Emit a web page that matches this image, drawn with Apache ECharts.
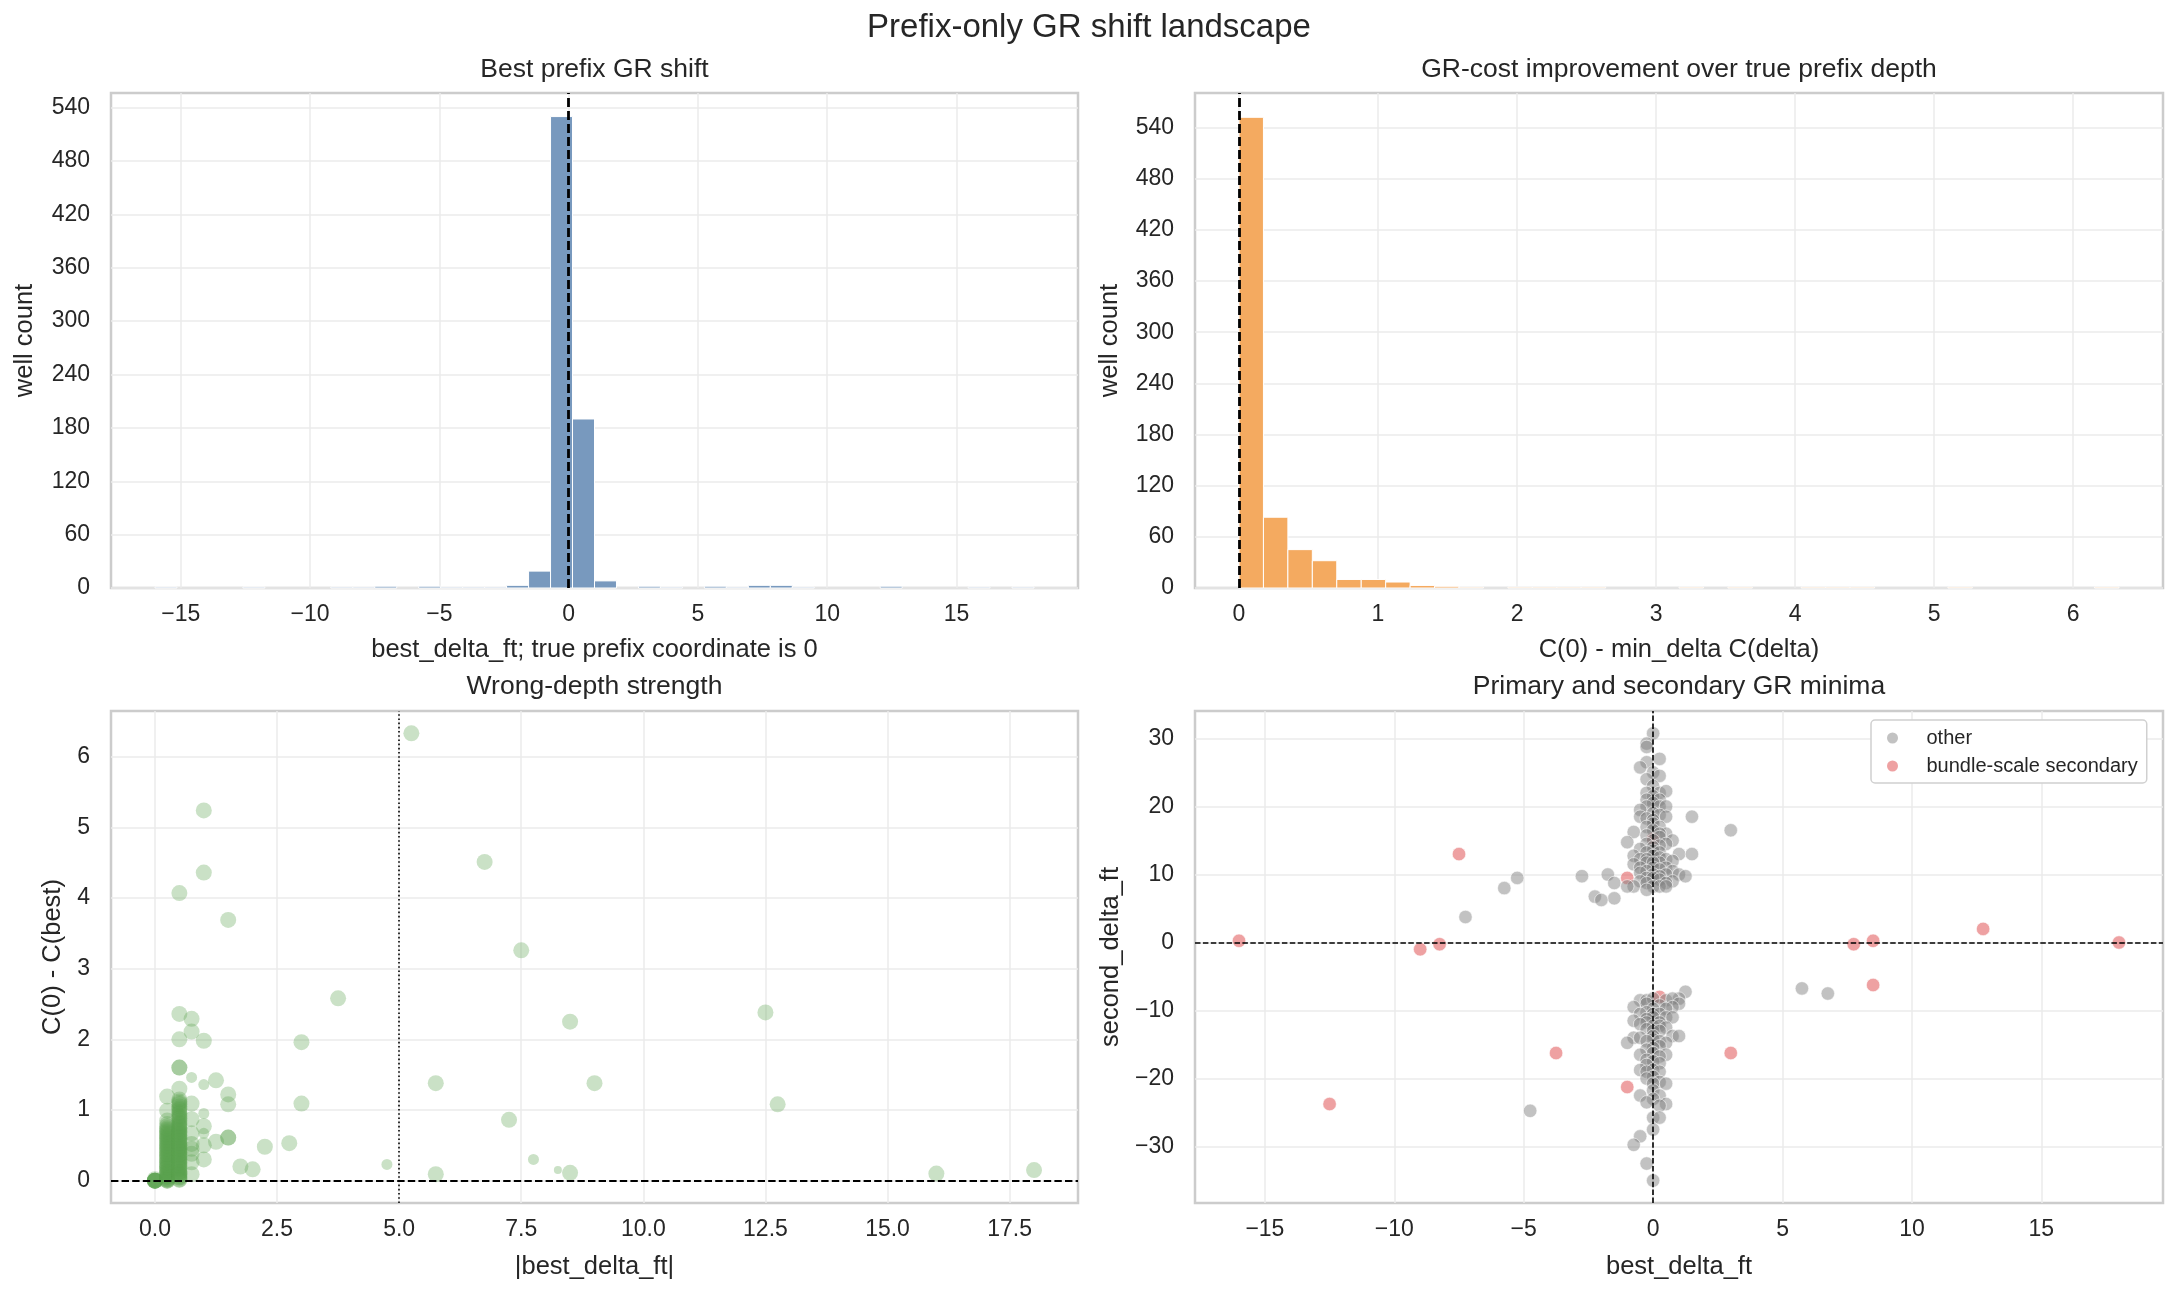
<!DOCTYPE html>
<html>
<head>
<meta charset="utf-8">
<title>Prefix-only GR shift landscape</title>
<script src="https://cdn.jsdelivr.net/npm/echarts@6.0.0/dist/echarts.min.js"></script>
<style>
  html, body { margin: 0; padding: 0; background: #fff; }
  #chart { width: 2178px; height: 1298px; }
</style>
</head>
<body>
<div id="chart"></div>
<script>
// histogram of best prefix shift (ft), 40 equal bins
const shiftBinStart = -16
const shiftBinWidth = 0.85
const shiftCounts = [
  1, 0, 0, 0, 1, 0, 0, 0, 1, 1,
  2, 0, 2, 1, 1, 1, 3, 19, 530, 190,
  8, 0, 2, 1, 0, 2, 1, 3, 3, 1,
  0, 0, 0, 2, 0, 0, 0, 1, 0, 1
]

// histogram of C(0) - min C(delta), 36 equal bins
const gainBinStart = 0
const gainBinWidth = 6.33 / 36
const gainCounts = [
  552, 83, 45, 32, 10, 10, 7, 3, 2, 1,
  0, 1, 1, 1, 1, 0, 0, 0, 1, 0,
  1, 0, 0, 1, 1, 1, 0, 0, 0, 1,
  0, 0, 0, 0, 0, 1
]

// tick labels
const countTicks = [0, 60, 120, 180, 240, 300, 360, 420, 480, 540]
const shiftTicks = [-15, -10, -5, 0, 5, 10, 15]
const gainTicks = [0, 1, 2, 3, 4, 5, 6]
const absShiftTicks = [0, 2.5, 5, 7.5, 10, 12.5, 15, 17.5]
const secondTicks = [-30, -20, -10, 0, 10, 20, 30]

// [|best_delta_ft|, C(0) - C(best), marker size class]
const strengthPoints = [
  [0, 0, 3], [0, 0, 3], [0, 0, 3], [0, 0, 3], [0, 0, 3], [0, 0, 3], [0, 0.02, 3],
  [0.25, 0, 3], [0.25, 0, 3], [0.25, 0.01, 3], [0.25, 0.03, 3], [0.25, 0.05, 3], [0.25, 0.08, 3],
  [0.25, 0.11, 3], [0.25, 0.14, 3], [0.25, 0.17, 3], [0.25, 0.2, 3], [0.25, 0.24, 3], [0.25, 0.28, 3],
  [0.25, 0.32, 3], [0.25, 0.36, 3], [0.25, 0.4, 3], [0.25, 0.44, 3], [0.25, 0.48, 3], [0.25, 0.52, 3],
  [0.25, 0.56, 3], [0.25, 0.6, 3], [0.25, 0.64, 3], [0.25, 0.68, 3], [0.25, 0.72, 3], [0.25, 0.77, 3],
  [0.25, 0.02, 3], [0.25, 0.06, 3], [0.25, 0.1, 3], [0.25, 0.13, 3], [0.25, 0.19, 3], [0.25, 0.22, 3],
  [0.25, 0.26, 3], [0.25, 0.3, 3], [0.25, 0.34, 3], [0.25, 0.38, 3], [0.25, 0.42, 3], [0.25, 0.46, 3],
  [0.25, 0.5, 3], [0.25, 0.54, 3], [0.25, 0.58, 3], [0.25, 0.62, 3], [0.25, 0.66, 3], [0.25, 0.7, 3],
  [0.25, 0.74, 3], [0.25, 0.8, 3], [0.25, 0.85, 3],
  [0.25, 0.99, 3], [0.25, 1.19, 3],
  [0.5, 0.02, 3], [0.5, 0.04, 3], [0.5, 0.07, 3], [0.5, 0.1, 3], [0.5, 0.13, 3], [0.5, 0.16, 3],
  [0.5, 0.2, 3], [0.5, 0.24, 3], [0.5, 0.28, 3], [0.5, 0.32, 3], [0.5, 0.36, 3], [0.5, 0.4, 3],
  [0.5, 0.44, 3], [0.5, 0.48, 3], [0.5, 0.52, 3], [0.5, 0.56, 3], [0.5, 0.6, 3], [0.5, 0.64, 3],
  [0.5, 0.68, 3], [0.5, 0.72, 3], [0.5, 0.76, 3], [0.5, 0.8, 3], [0.5, 0.85, 3], [0.5, 0.9, 3],
  [0.5, 0.95, 3], [0.5, 1.0, 3], [0.5, 1.05, 3], [0.5, 1.1, 3], [0.5, 1.15, 3],
  [0.5, 0.01, 3], [0.5, 0.05, 3], [0.5, 0.09, 3], [0.5, 0.12, 3], [0.5, 0.18, 3], [0.5, 0.22, 3],
  [0.5, 0.26, 3], [0.5, 0.3, 3], [0.5, 0.34, 3], [0.5, 0.38, 3], [0.5, 0.42, 3], [0.5, 0.46, 3],
  [0.5, 0.5, 3], [0.5, 0.54, 3], [0.5, 0.58, 3], [0.5, 0.62, 3], [0.5, 0.66, 3], [0.5, 0.7, 3],
  [0.5, 0.74, 3], [0.5, 0.78, 3], [0.5, 0.82, 3], [0.5, 0.88, 3], [0.5, 0.92, 3], [0.5, 0.97, 3],
  [0.5, 1.02, 3], [0.5, 1.08, 3], [0.5, 1.12, 3], [0.5, 1.3, 3],
  [0.5, 1.6, 3], [0.5, 1.6, 3], [0.5, 2.0, 3], [0.5, 2.36, 3], [0.5, 4.07, 3],
  [0.75, 0.09, 3], [0.75, 0.26, 3], [0.75, 0.38, 3], [0.75, 0.45, 3], [0.75, 0.52, 3], [0.75, 0.67, 3],
  [0.75, 0.87, 3], [0.75, 1.09, 3], [0.75, 1.46, 2], [0.75, 2.11, 3], [0.75, 2.29, 3],
  [1, 0.3, 3], [1, 0.5, 3], [1, 0.67, 2], [1, 0.77, 3], [1, 0.95, 2], [1, 1.36, 2], [1, 1.98, 3],
  [1, 4.36, 3], [1, 5.24, 3],
  [1.25, 0.55, 3], [1.25, 1.42, 3],
  [1.5, 0.61, 3], [1.5, 0.61, 3], [1.5, 1.08, 3], [1.5, 1.22, 3], [1.5, 3.69, 3],
  [1.75, 0.2, 3], [2, 0.16, 3], [2.25, 0.48, 3], [2.75, 0.53, 3], [3, 1.09, 3], [3, 1.96, 3],
  [3.75, 2.58, 3], [4.75, 0.23, 2], [5.25, 6.33, 3], [5.75, 0.09, 3], [5.75, 1.38, 3],
  [6.75, 4.51, 3], [7.25, 0.86, 3], [7.5, 3.26, 3], [7.75, 0.3, 2], [8.25, 0.15, 1],
  [8.5, 0.11, 3], [8.5, 2.25, 3], [9, 1.38, 3], [12.5, 2.38, 3], [12.75, 1.08, 3],
  [16, 0.1, 3], [18, 0.15, 3]
]

// [best_delta_ft, second_delta_ft]
const otherPoints = [
  [0, 30.75], [-0.25, 29.25], [-0.25, 28.75], [0.25, 27], [-0.25, 26.5], [-0.5, 25.75], [0, 25],
  [0.25, 24.5], [-0.25, 24], [0, 23], [-0.25, 22], [0.25, 22], [0.5, 22.25], [0, 21.5], [0.25, 21],
  [-0.25, 21], [0, 20.5], [-0.25, 20], [0.25, 20], [0.5, 20], [-0.5, 19.5], [0, 19], [0.25, 18.75],
  [-0.5, 18.5], [-0.25, 18.25], [0.5, 18.5], [1.5, 18.5], [0, 18], [0, 17.5], [-0.25, 17], [0.25, 17],
  [3, 16.5], [0, 16.5], [-0.75, 16.25], [0.5, 16], [0.25, 16], [-0.25, 15.75], [0.25, 15.5], [0, 15],
  [0.75, 15], [-1, 14.75], [-0.25, 14.5], [0.5, 14.5], [0.25, 14.25], [0, 14], [-0.5, 13.75],
  [0, 13.5], [-0.25, 13.25], [0.25, 13.25], [1, 13], [1.5, 13], [0, 12.75], [-0.75, 12.75],
  [0.25, 12.5], [-0.5, 12.25], [-0.25, 12.25], [0.5, 12.25], [0.75, 12], [-0.25, 11.75],
  [0.25, 11.75], [0, 11.75], [-0.75, 11.5], [-0.5, 11], [0, 11], [0.5, 11], [0.25, 10.75],
  [-0.25, 10.5], [0.75, 10.5], [-0.5, 10.25], [0, 10], [0.5, 10], [1, 10], [-1.75, 10],
  [0.25, 9.75], [1.25, 9.75], [-2.75, 9.75], [-0.25, 9.5], [0, 9.5], [-5.25, 9.5], [0.25, 9.25],
  [-0.5, 9], [0.75, 9], [-0.25, 8.75], [0.5, 8.75], [-1.5, 8.75], [-0.75, 8.25], [-1, 8.25],
  [0, 8.25], [0.25, 8.25], [0.5, 8.25], [-5.75, 8], [-0.25, 7.75], [-2.25, 6.75], [-1.5, 6.5],
  [-2, 6.25], [-7.25, 3.75],
  [5.75, -6.75], [6.75, -7.5], [1.25, -7.25], [1, -8.25], [-0.5, -8.5], [-0.25, -8.5], [0, -8.25],
  [0.5, -8.5], [0.75, -8.25], [-0.25, -9], [1, -9], [0.25, -9.25], [-0.75, -9.5], [0.75, -9.5],
  [0, -9.75], [0.5, -9.75], [-0.25, -10.25], [-0.5, -10.5], [0, -10.5], [0.25, -10.5], [0, -11],
  [0.5, -11], [0.75, -11], [-0.25, -11.25], [-0.75, -11.5], [-0.25, -11.75], [0.25, -11.75],
  [-0.5, -12], [0, -12.25], [0.25, -12.25], [0.5, -12.5], [-0.25, -12.75], [0, -13], [0.25, -13],
  [0.75, -13.75], [1, -13.75], [0, -13.75], [-0.75, -14], [-0.5, -14], [0, -14.25], [-0.25, -14.5],
  [0.25, -14.5], [-1, -14.75], [0.5, -14.75], [0.25, -15.25], [0, -15.5], [-0.25, -15.75],
  [0, -16.25], [-0.5, -16.5], [0.5, -16.5], [0.25, -16.75], [-0.25, -17.25], [0, -17.5],
  [0.25, -17.75], [-0.25, -18], [-0.5, -18.75], [0, -18.75], [-0.25, -19], [0.25, -19],
  [0, -19.75], [-0.25, -20], [0.25, -20.5], [0, -20.75], [0.5, -20.75], [0, -21.75], [-0.5, -22.5],
  [0.25, -22.5], [0, -23], [-0.25, -23.5], [0.5, -23.75], [0.25, -24], [-4.75, -24.75],
  [0, -25.75], [0.25, -25.75], [0, -27.5], [-0.5, -28.5], [-0.75, -29.75], [-0.25, -32.5], [0, -35]
]
const bundlePoints = [
  [-7.5, 13], [0, 15.25], [-1, 9.5], [-16, 0.25], [-9, -1], [-8.25, -0.25], [7.75, -0.25],
  [8.5, 0.25], [12.75, 2], [18, 0], [8.5, -6.25], [0.25, -8], [-3.75, -16.25], [3, -16.25],
  [-1, -21.25], [-12.5, -23.75]
]

const FONT = '"Liberation Sans", Arial, Helvetica, sans-serif'
const TEXT = '#262626'
const markerSizes = { 1: 8, 2: 11, 3: 16 }

const minus = v => String(v).replace('-', '\u2212')

function axis(opt) {
  const base = {
    type: 'value',
    axisLine: { show: false },
    axisTick: { show: false, customValues: opt.ticks },
    axisLabel: {
      customValues: opt.ticks,
      formatter: opt.format || minus,
      fontFamily: FONT,
      fontSize: 23,
      color: TEXT,
      margin: opt.margin
    },
    splitLine: { show: true, lineStyle: { color: '#ebebeb', width: 1.5 } },
    name: opt.name,
    nameLocation: 'middle',
    nameGap: opt.nameGap,
    nameTextStyle: { fontFamily: FONT, fontSize: 25.5, color: TEXT },
    gridIndex: opt.grid,
    min: opt.min,
    max: opt.max,
    splitNumber: opt.split
  }
  if (opt.interval) base.interval = opt.interval
  return base
}

function histSeries(idx, start, width, counts, color) {
  const data = []
  counts.forEach((c, i) => {
    if (c > 0) data.push([start + i * width, start + (i + 1) * width, c])
  })
  return {
    type: 'custom',
    xAxisIndex: idx,
    yAxisIndex: idx,
    encode: { x: [0, 1], y: 2 },
    renderItem(params, api) {
      const p0 = api.coord([api.value(0), api.value(2)])
      const p1 = api.coord([api.value(1), 0])
      return {
        type: 'rect',
        shape: { x: p0[0], y: p0[1], width: p1[0] - p0[0], height: p1[1] - p0[1] },
        style: { fill: color, stroke: '#ffffff', lineWidth: 1 }
      }
    },
    data
  }
}

function refLine(idx, items) {
  return {
    type: 'scatter',
    xAxisIndex: idx,
    yAxisIndex: idx,
    data: [],
    z: 6,
    markLine: {
      silent: true,
      symbol: ['none', 'none'],
      label: { show: false },
      animation: false,
      data: items
    }
  }
}

const titleStyle = { fontFamily: FONT, fontSize: 26.5, fontWeight: 'normal', color: TEXT }

const chart = echarts.init(document.getElementById('chart'), null, { renderer: 'canvas' })

chart.setOption({
  backgroundColor: '#ffffff',
  animation: false,
  title: [
    { text: 'Prefix-only GR shift landscape', left: 1089, top: 11, textAlign: 'center', padding: 0,
      textStyle: { fontFamily: FONT, fontSize: 33, fontWeight: 'normal', color: TEXT } },
    { text: 'Best prefix GR shift', left: 594.5, top: 56, textAlign: 'center', padding: 0, textStyle: titleStyle },
    { text: 'GR-cost improvement over true prefix depth', left: 1679, top: 56, textAlign: 'center', padding: 0, textStyle: titleStyle },
    { text: 'Wrong-depth strength', left: 594.5, top: 673, textAlign: 'center', padding: 0, textStyle: titleStyle },
    { text: 'Primary and secondary GR minima', left: 1679, top: 673, textAlign: 'center', padding: 0, textStyle: titleStyle }
  ],
  grid: [
    { left: 111, top: 93, width: 967, height: 495 },
    { left: 1195, top: 93, width: 968, height: 495 },
    { left: 111, top: 711, width: 967, height: 492 },
    { left: 1195, top: 711, width: 968, height: 492 }
  ].map(g => Object.assign(g, {
    show: true, borderColor: '#cccccc', borderWidth: 2.5, backgroundColor: 'transparent',
    containLabel: false, outerBoundsMode: 'none'
  })),
  legend: {
    data: ['other', 'bundle-scale secondary'],
    orient: 'vertical',
    left: 1871,
    top: 720,
    padding: [8, 9, 7, 16],
    itemGap: 8,
    itemWidth: 24,
    itemHeight: 11,
    icon: 'circle',
    backgroundColor: '#ffffff',
    borderColor: '#d0d0d0',
    borderWidth: 1.5,
    borderRadius: 4,
    selectedMode: false,
    itemStyle: { borderWidth: 0 },
    textStyle: { fontFamily: FONT, fontSize: 20, color: TEXT, lineHeight: 20, padding: [0, 0, 0, 17] }
  },
  xAxis: [
    axis({ grid: 0, min: -17.7, max: 19.7, split: 7, ticks: shiftTicks, margin: 15,
      name: 'best_delta_ft; true prefix coordinate is 0', nameGap: 49 }),
    axis({ grid: 1, min: -0.3165, max: 6.6465, split: 7, ticks: gainTicks, margin: 15,
      name: 'C(0) - min_delta C(delta)', nameGap: 49 }),
    axis({ grid: 2, min: -0.9, max: 18.9, split: 8, ticks: absShiftTicks, margin: 15,
      format: v => Number(v).toFixed(1), name: '|best_delta_ft|', nameGap: 51 }),
    axis({ grid: 3, min: -17.7, max: 19.7, split: 7, ticks: shiftTicks, margin: 15,
      name: 'best_delta_ft', nameGap: 51 })
  ],
  yAxis: [
    axis({ grid: 0, min: 0, max: 556.5, interval: 60, ticks: countTicks, margin: 21,
      name: 'well count', nameGap: 73 }),
    axis({ grid: 1, min: 0, max: 580.5, interval: 60, ticks: countTicks, margin: 21,
      name: 'well count', nameGap: 72 }),
    axis({ grid: 2, min: -0.3165, max: 6.6465, split: 7, ticks: gainTicks, margin: 21,
      name: 'C(0) - C(best)', nameGap: 45 }),
    axis({ grid: 3, min: -38.3, max: 34.04, split: 7, ticks: secondTicks, margin: 21,
      name: 'second_delta_ft', nameGap: 71 })
  ],
  series: [
    histSeries(0, shiftBinStart, shiftBinWidth, shiftCounts, '#7899be'),
    refLine(0, [{ xAxis: 0, lineStyle: { color: '#000', width: 2.8, type: [9, 4] } }]),
    histSeries(1, gainBinStart, gainBinWidth, gainCounts, '#f4aa60'),
    refLine(1, [{ xAxis: 0, lineStyle: { color: '#000', width: 2.8, type: [9, 4] } }]),
    {
      type: 'scatter',
      xAxisIndex: 2,
      yAxisIndex: 2,
      data: strengthPoints,
      symbolSize: v => markerSizes[v[2]],
      itemStyle: { color: 'rgba(89,161,79,0.4)', borderWidth: 0 }
    },
    refLine(2, [
      { yAxis: 0, lineStyle: { color: '#000', width: 2, type: [7.4, 3.2] } },
      { xAxis: 5, lineStyle: { color: '#000', width: 1.6, type: [1.6, 2.6] } }
    ]),
    {
      name: 'bundle-scale secondary',
      type: 'scatter',
      xAxisIndex: 3,
      yAxisIndex: 3,
      data: bundlePoints,
      symbolSize: 13.5,
      itemStyle: { color: 'rgba(225,87,89,0.7)', borderColor: 'rgba(255,255,255,0.7)', borderWidth: 1 }
    },
    {
      name: 'other',
      type: 'scatter',
      xAxisIndex: 3,
      yAxisIndex: 3,
      data: otherPoints,
      symbolSize: 13.5,
      itemStyle: { color: 'rgba(128,128,128,0.6)', borderColor: 'rgba(255,255,255,0.7)', borderWidth: 1 }
    },
    refLine(3, [
      { xAxis: 0, lineStyle: { color: '#000', width: 1.6, type: [5.5, 2.4] } },
      { yAxis: 0, lineStyle: { color: '#000', width: 1.6, type: [5.5, 2.4] } }
    ])
  ]
})
</script>
</body>
</html>
